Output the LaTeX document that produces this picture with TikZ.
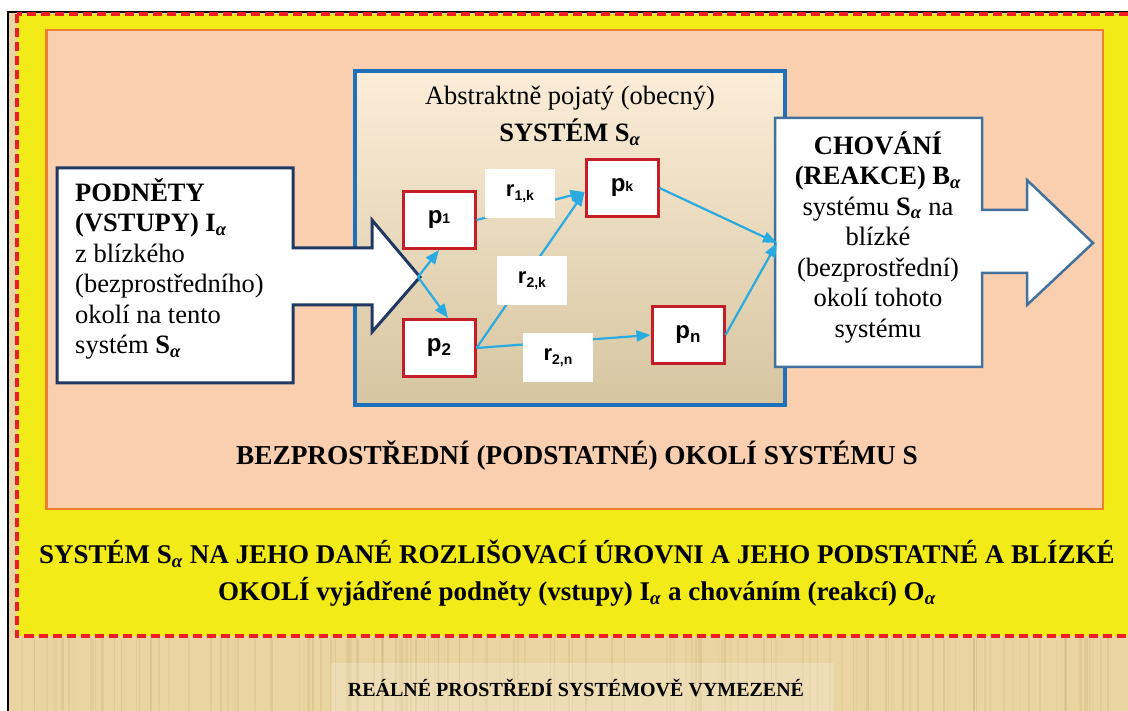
\documentclass[tikz,border=0pt]{standalone}
\usepackage{fontspec}
\setmainfont{Liberation Serif}
\setsansfont{Liberation Sans}
\usepackage{tikz}
\usepackage{xcolor}
\usetikzlibrary{arrows.meta,positioning,calc}
\definecolor{papyrus}{RGB}{234,212,162}
\definecolor{papyrusdark}{RGB}{196,168,108}
\definecolor{okoliyellow}{RGB}{242,235,24}
\definecolor{dashred}{RGB}{236,30,36}
\definecolor{salmon}{RGB}{249,207,175}
\definecolor{okoliorange}{RGB}{237,125,49}
\definecolor{sysblue}{RGB}{30,112,186}
\definecolor{systop}{RGB}{251,237,216}
\definecolor{sysbottom}{RGB}{214,197,160}
\definecolor{boxred}{RGB}{196,30,40}
\definecolor{flowblue}{RGB}{41,171,226}
\definecolor{innavy}{RGB}{31,56,100}
\definecolor{outslate}{RGB}{65,113,156}
\newcommand{\Sa}{S\textsubscript{\textit{α}}}

\begin{document}
\begin{tikzpicture}[x=1pt,y=-1pt,
  txt/.style={font=\fontsize{26.5}{30.5}\selectfont, align=center, inner sep=0pt},
  pbox/.style={draw=boxred, line width=3pt, fill=white, minimum width=72pt, minimum height=57pt,
    font=\sffamily\bfseries\fontsize{24}{24}\selectfont},
  rlab/.style={fill=white, minimum width=70pt, minimum height=49pt,
    font=\sffamily\bfseries\fontsize{22}{22}\selectfont},
  flow/.style={draw=flowblue, line width=2.2pt, -{Triangle[length=14pt,width=11pt]}},
  bigarrow/.style={fill=white, line width=3pt, line join=miter}]
\useasboundingbox (0,0) rectangle (1128,711);

% real surroundings (papyrus)
\fill[papyrus] (8,12) rectangle (1140,720);
\pgfmathsetseed{12}
\foreach \k in {1,...,140}{
  \pgfmathsetmacro{\sx}{10+1118*rnd}
  \pgfmathsetmacro{\so}{0.08+0.22*rnd}
  \draw[papyrusdark, line width=1.6pt, opacity=\so] (\sx,638) -- (\sx,711);
}
\fill[white, opacity=0.2] (331,663) rectangle (834,711);
\draw[black, line width=1.5pt] (8,720) -- (8,12) -- (1140,12);
\node[font=\bfseries\fontsize{20}{20}\selectfont] (realne) at (576,688) {REÁLNÉ PROSTŘEDÍ SYSTÉMOVĚ VYMEZENÉ};

% system with its surroundings
\draw[dashred, line width=4pt, dash pattern=on 9pt off 5pt, fill=okoliyellow] (16.5,14) rectangle (1140,636);
\draw[okoliorange, line width=2.5pt, fill=salmon] (46.5,30) rectangle (1103,509);
\node[txt, font=\bfseries\fontsize{27.3}{30}\selectfont] (okoli) at (577,456) {BEZPROSTŘEDNÍ (PODSTATNÉ) OKOLÍ SYSTÉMU S};
\node[txt, font=\bfseries\fontsize{27}{37}\selectfont] (popis) at (577,573)
  {SYSTÉM \Sa{} NA JEHO DANÉ ROZLIŠOVACÍ ÚROVNI A JEHO PODSTATNÉ A BLÍZKÉ\\
   OKOLÍ vyjádřené podněty (vstupy) I\textsubscript{\textit{α}} a chováním (reakcí) O\textsubscript{\textit{α}}};

% abstract system
\node[draw=sysblue, line width=4pt, top color=systop, bottom color=sysbottom,
  minimum width=430pt, minimum height=334pt] (system) at (570,238.5) {};
\node[txt, font=\fontsize{26.5}{37}\selectfont] (nazev) at (570,116) {Abstraktně pojatý (obecný)\\ \textbf{SYSTÉM \Sa}};

% inputs
\draw[bigarrow, draw=innavy] (57,168) -- (293,168) -- (293,248) -- (372,248) -- (372,220) -- (420,277)
  -- (372,332) -- (372,305) -- (293,305) -- (293,383) -- (57,383) -- cycle;
\coordinate (intip) at (418,277);
\node[txt, align=left, anchor=west] (podnety) at (75,269)
  {\textbf{PODNĚTY}\\ \textbf{(VSTUPY) I\textsubscript{\textit{α}}}\\ z blízkého\\ (bezprostředního)\\ okolí na tento\\ systém \textbf{\Sa}};

% outputs
\draw[bigarrow, draw=outslate, line width=2.5pt] (775,118) -- (982,118) -- (982,210) -- (1027,210) -- (1027,180)
  -- (1093,243) -- (1027,305) -- (1027,273) -- (982,273) -- (982,367) -- (775,367) -- cycle;
\coordinate (outin) at (777,243);
\node[txt] (chovani) at (878,237)
  {\textbf{CHOVÁNÍ}\\ \textbf{(REAKCE) B\textsubscript{\textit{α}}}\\ systému \textbf{\Sa} na\\ blízké\\ (bezprostřední)\\ okolí tohoto\\ systému};

% elements and relations
\node[pbox] (p1) at (439,220) {p{\fontsize{14}{14}\selectfont 1}};
\node[pbox] (p2) at (439,348) {p\raisebox{-4pt}{\fontsize{17}{17}\selectfont 2}};
\node[pbox] (pk) at (622,188) {p{\fontsize{14}{14}\selectfont k}};
\node[pbox] (pn) at (688,335) {p\raisebox{-4pt}{\fontsize{17}{17}\selectfont n}};

\draw[flow] (intip) -- (p1.south);
\draw[flow] (intip) -- ($(p2.north)+(9,0)$);
\draw[flow] (p1.east) -- ($(pk.west)+(0,4)$);
\draw[flow] (p2.east) -- ($(pk.west)+(0,4)$);
\draw[flow] (p2.east) -- (pn.west);
\draw[flow] (pk.east) -- (outin);
\draw[flow] (pn.east) -- (outin);

\node[rlab] (r1k) at (520,194) {r\raisebox{-4pt}{\fontsize{14}{14}\selectfont 1,k}};
\node[rlab] (r2k) at (532,281) {r\raisebox{-4pt}{\fontsize{14}{14}\selectfont 2,k}};
\node[rlab] (r2n) at (558,358) {r\raisebox{-4pt}{\fontsize{14}{14}\selectfont 2,n}};
\end{tikzpicture}
\end{document}
